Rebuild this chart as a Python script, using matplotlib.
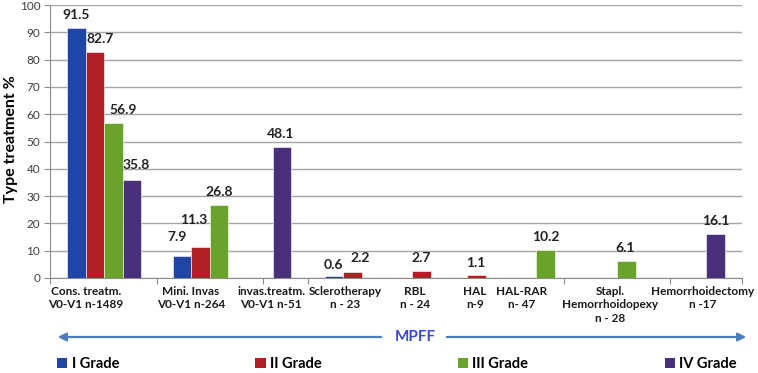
import numpy as np
import matplotlib.pyplot as plt
from matplotlib.patches import Patch
from matplotlib.transforms import blended_transform_factory

# ---------------- data ----------------
grades = ["I Grade", "II Grade", "III Grade", "IV Grade"]
cat_labels = [
    "Cons. treatm.\nV0-V1 n-1489",
    "Mini. Invas\nV0-V1 n-264",
    "invas.treatm.\nV0-V1 n-51",
    "Sclerotherapy\nn - 23",
    "RBL\nn - 24",
    "HAL\nn-9",
    "HAL-RAR\nn- 47",
    "Stapl.\nHemorrhoidopexy\nn - 28",
    "Hemorrhoidectomy\nn -17",
]
nan = np.nan
grade1 = [91.5, 7.9, nan, 0.6, nan, nan, nan, nan, nan]
grade2 = [82.7, 11.3, nan, 2.2, 2.7, 1.1, nan, nan, nan]
grade3 = [56.9, 26.8, nan, nan, nan, nan, 10.2, 6.1, nan]
grade4 = [35.8, nan, 48.1, nan, nan, nan, nan, nan, 16.1]
values = [grade1, grade2, grade3, grade4]

# ---------------- layout (x in axis units = pixels, 0..692) ----------------
BAR_W = 18.5
bar_x = [
    [26.5, 132, nan, 284, nan, nan, nan, nan, nan],
    [45, 150.5, nan, 302.5, 371.5, 426.5, nan, nan, nan],
    [63.5, 169, nan, nan, nan, nan, 495.5, 576.5, nan],
    [82, nan, 232, nan, nan, nan, nan, nan, 665.5],
]
# small nudges of the value labels (pixels)
lab_dx = [
    [0, -5, 0, -1, 0, 0, 0, 0, 0],
    [5, -7, 0, 8, 0, -1, 0, 0, 0],
    [9.5, 0, 0, 0, 0, 0, 0, -1, 0],
    [4, 0, -1, 0, 0, 0, 0, 0, 0],
]
lab_dy = [
    [0, 6, 0, -2, 0, 0, 0, 0, 0],
    [0, 14, 0, 1, 0, -1, 0, 0, 0],
    [0, 0, 0, 0, 0, 0, 0, 0, 0],
    [2, 0, 0, 0, 0, 0, 0, 0, 0],
]
label_x = [36, 141, 221, 295, 365, 425, 472, 560, 653]
xtick_pos = [0, 107, 213, 258, 514, 620, 692]
colors = ["#1f45a6", "#b01f24", "#6aa22b", "#48307a"]

plt.rcParams['font.family'] = ['Lato', 'DejaVu Sans']

W, H = 758, 373
PX_PER_UNIT = 273 / 100
fig = plt.figure(figsize=(W / 100, H / 100), dpi=100)
ax = fig.add_axes([50 / W, 95 / H, 692 / W, 273 / H])

for g in range(4):
    for i, v in enumerate(values[g]):
        if np.isnan(v):
            continue
        x = bar_x[g][i]
        ax.bar(x, v, width=BAR_W, color=colors[g], edgecolor="white",
               linewidth=0.4, zorder=3)
        ax.text(x + lab_dx[g][i], v + (13 + lab_dy[g][i]) / PX_PER_UNIT,
                f"{v:.1f}", ha="center", va="center",
                fontsize=10, fontweight="bold", color="#222222", zorder=4)

ax.set_xlim(0, 692)
ax.set_ylim(0, 100)
ax.set_yticks(range(0, 101, 10))
ax.tick_params(axis="y", labelsize=8.5, colors="#404040", length=4,
               color="#8c8c8c", pad=3)
ax.yaxis.grid(True, color="#a6a6a6", linewidth=1, zorder=0)
ax.set_axisbelow(True)

ax.set_xticks(xtick_pos)
ax.set_xticklabels([])
ax.tick_params(axis="x", length=4, color="#8c8c8c")

for s in ["top", "right"]:
    ax.spines[s].set_visible(False)
for s in ["left", "bottom"]:
    ax.spines[s].set_color("#8c8c8c")

ax.set_ylabel("Type treatment %", fontsize=11.5, fontweight="bold")
ax.yaxis.set_label_coords(-32 / 692, 0.51)

# category labels under the axis
tr = blended_transform_factory(ax.transData, fig.transFigure)
for x, lab in zip(label_x, cat_labels):
    ax.text(x, 1 - 286 / H, lab, transform=tr, ha="center", va="top",
            fontsize=8.5, fontweight="bold", color="#1a1a1a", linespacing=1.25)

# MPFF double arrow
arrow_y = H - 337
ax.annotate("", xy=(55, arrow_y), xytext=(384, arrow_y), xycoords="figure pixels",
            textcoords="figure pixels",
            arrowprops=dict(arrowstyle="-|>", color="#4a7ebb", lw=1.6,
                            mutation_scale=12))
ax.annotate("", xy=(749, arrow_y), xytext=(444, arrow_y), xycoords="figure pixels",
            textcoords="figure pixels",
            arrowprops=dict(arrowstyle="-|>", color="#4a7ebb", lw=1.6,
                            mutation_scale=12))
fig.text(415 / W, arrow_y / H, "MPFF", ha="center", va="center",
         fontsize=11, fontweight="bold", color="#3a47d6")

handles = [Patch(facecolor=c, edgecolor="none") for c in colors]
fig.legend(handles, grades, loc="lower left", bbox_to_anchor=(44 / W, -0.03, 706 / W, 0.05),
           ncol=4, mode="expand", frameon=False, handlelength=0.7, handleheight=0.7,
           handletextpad=0.3, prop=dict(size=10.5, weight="bold"))

fig.savefig("out.png", dpi=100)
